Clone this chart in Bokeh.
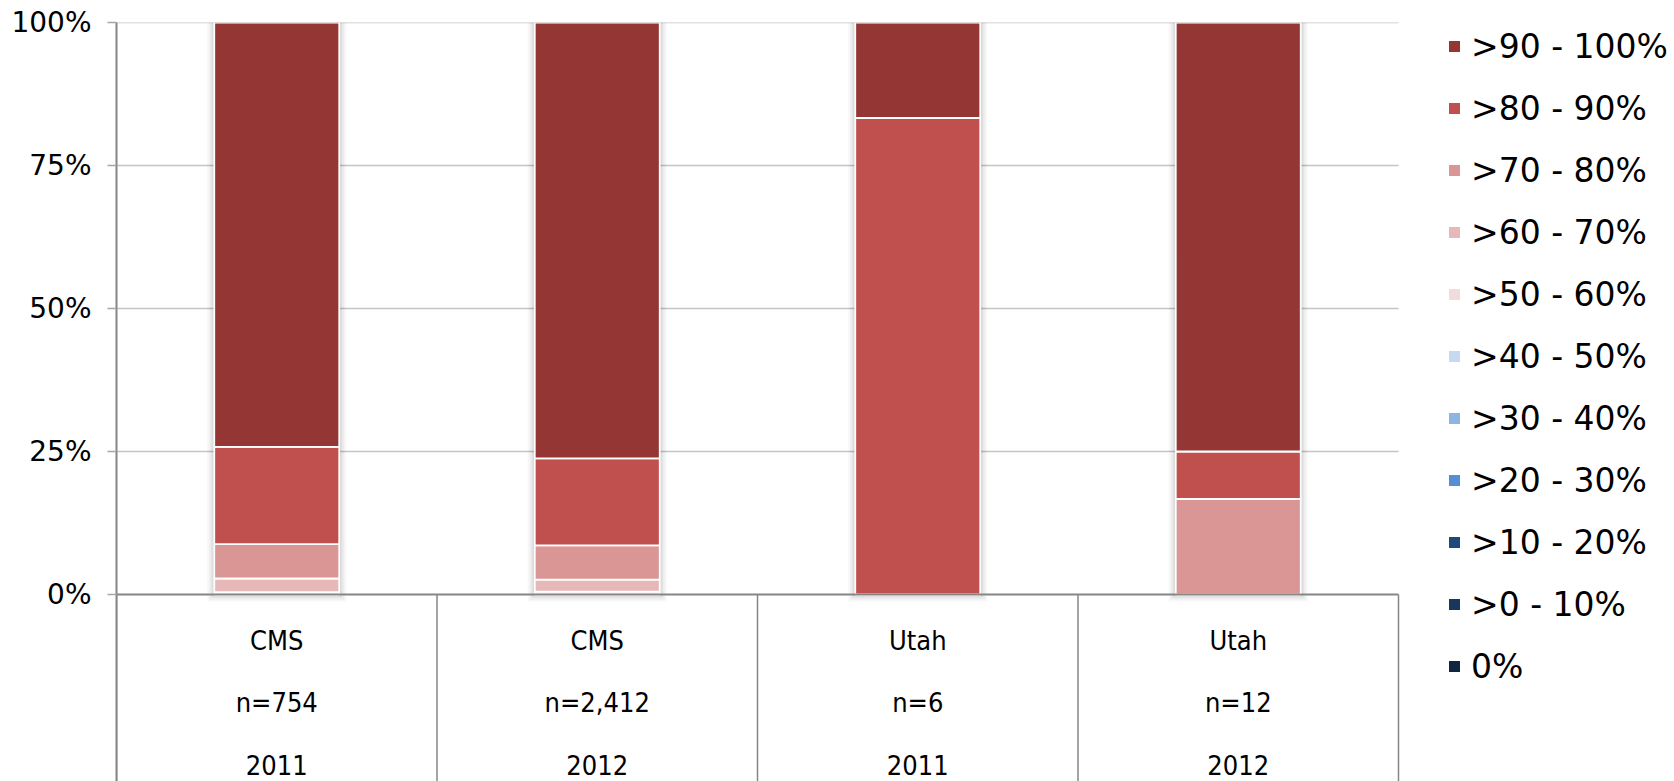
from bokeh.plotting import figure
from bokeh.models import Range1d, FixedTicker, Legend, LegendItem, ColumnDataSource
from bokeh.core.properties import value
from bokeh.embed import file_html
from bokeh.resources import INLINE

# ---------------- data ----------------
categories = ["CMS", "CMS", "Utah", "Utah"]
n_labels = ["n=754", "n=2,412", "n=6", "n=12"]
years = ["2011", "2012", "2011", "2012"]

bins = ["0%", ">0 - 10%", ">10 - 20%", ">20 - 30%", ">30 - 40%", ">40 - 50%",
        ">50 - 60%", ">60 - 70%", ">70 - 80%", ">80 - 90%", ">90 - 100%"]

v_0 = [0, 0, 0, 0]
v_0_10 = [0, 0, 0, 0]
v_10_20 = [0, 0, 0, 0]
v_20_30 = [0, 0, 0, 0]
v_30_40 = [0, 0, 0, 0]
v_40_50 = [0, 0, 0, 0]
v_50_60 = [0.4, 0.5, 0, 0]
v_60_70 = [2.4, 2.1, 0, 0]
v_70_80 = [6.0, 6.0, 0, 16.7]
v_80_90 = [17.0, 15.2, 83.3, 8.3]
v_90_100 = [74.2, 76.2, 16.7, 75.0]

series = [v_0, v_0_10, v_10_20, v_20_30, v_30_40, v_40_50,
          v_50_60, v_60_70, v_70_80, v_80_90, v_90_100]

colors = ["#10253F", "#17375E", "#1F497D", "#558ED5", "#8EB4E3", "#C6D9F1",
          "#F2DCDB", "#E6B9B8", "#D99694", "#C0504D", "#943634"]

y_ticks = [0, 25, 50, 75, 100]
y_tick_labels = ["0%", "25%", "50%", "75%", "100%"]

# ---------------- layout ----------------
W, H = 1674, 781
BORDER_L, BORDER_T = 116, 22
FRAME_W = W - BORDER_L
FRAME_H = H - BORDER_T
PX_PER_CAT = 320.5
PX_PER_PCT = 5.72
n = len(categories)
x_lo, x_hi = -0.5, n - 0.5
X_END = x_lo + FRAME_W / PX_PER_CAT
Y_BOT = 100 - FRAME_H / PX_PER_PCT
BAR_W = 0.39

p = figure(width=W, height=H, output_backend="svg", toolbar_location=None,
           x_range=Range1d(x_lo, X_END), y_range=Range1d(Y_BOT, 100),
           min_border_left=BORDER_L, min_border_right=0, min_border_top=BORDER_T,
           min_border_bottom=0, x_axis_location=None)
p.outline_line_color = None
p.xgrid.visible = False
p.ygrid.visible = False

# gridlines (limited to category area)
grid_y = [t for t in y_ticks if t != 0]
p.segment(x0=[x_lo] * len(grid_y), x1=[x_hi] * len(grid_y), y0=grid_y, y1=grid_y,
          line_color="#C4C4C4", line_width=1.5)

# bar shadows
totals = [sum(s[i] for s in series) for i in range(n)]
xs = list(range(n))
for k, a in [(14, 0.03), (10, 0.04), (6, 0.05), (3, 0.06)]:
    p.vbar(x=xs, width=BAR_W + k / PX_PER_CAT, top=[t + k * 0.5 / PX_PER_PCT for t in totals],
           bottom=[-k * 0.5 / PX_PER_PCT] * n, fill_color="black", fill_alpha=a, line_color=None)

data = {"x": xs}
keys = []
for i, s in enumerate(series):
    k = f"b{i}"
    keys.append(k)
    data[k] = s
src = ColumnDataSource(data)
rs = p.vbar_stack(keys, x="x", width=BAR_W, color=colors, source=src,
                  line_color="white", line_width=1.8)

# zero axis line and category dividers
p.segment(x0=[x_lo], x1=[x_hi], y0=[0], y1=[0], line_color="#868686", line_width=2)
bounds = [x_lo + i for i in range(n + 1)]
p.segment(x0=bounds, x1=bounds, y0=[0] * len(bounds), y1=[Y_BOT] * len(bounds),
          line_color="#868686", line_width=1.5)

# category labels
lab_font = value("Liberation Sans Narrow, DejaVu Sans Condensed, Roboto Condensed, Roboto")
for labels, off in [(categories, 46), (n_labels, 108), (years, 170)]:
    p.text(x=xs, y=[0] * n, text=labels, y_offset=off, text_align="center",
           text_baseline="middle", text_font=lab_font, text_font_size="27px",
           text_color="black")

# y axis
ax = p.yaxis[0]
ax.ticker = FixedTicker(ticks=y_ticks)
ax.major_label_overrides = {t: l for t, l in zip(y_ticks, y_tick_labels)}
ax.major_label_text_font = "DejaVu Sans"
ax.major_label_text_font_size = "28px"
ax.major_label_text_color = "black"
ax.major_label_standoff = 16
ax.axis_line_color = "#868686"
ax.axis_line_width = 2
ax.major_tick_in = 0
ax.major_tick_out = 9
ax.major_tick_line_color = "#A6A6A6"
ax.major_tick_line_width = 1.5
ax.minor_tick_line_color = None

# legend
items = [LegendItem(label=bins[i], renderers=[rs[i]]) for i in reversed(range(len(bins)))]
LEG_H = 40
PITCH = 62
SPACING = PITCH - LEG_H
n_items = len(items)
leg_total = n_items * LEG_H + (n_items - 1) * SPACING
first_center = 24  # from frame top
leg_top = first_center - LEG_H / 2
legend = Legend(items=items, location=(1330, FRAME_H - leg_top - leg_total),
                padding=0, margin=0, border_line_color=None, background_fill_alpha=0,
                glyph_width=16, glyph_height=16, label_height=LEG_H,
                spacing=SPACING, label_standoff=9,
                label_text_font="DejaVu Sans", label_text_font_size="33px",
                label_text_color="black")
p.add_layout(legend)

open("out.html", "w").write(file_html(p, INLINE))
